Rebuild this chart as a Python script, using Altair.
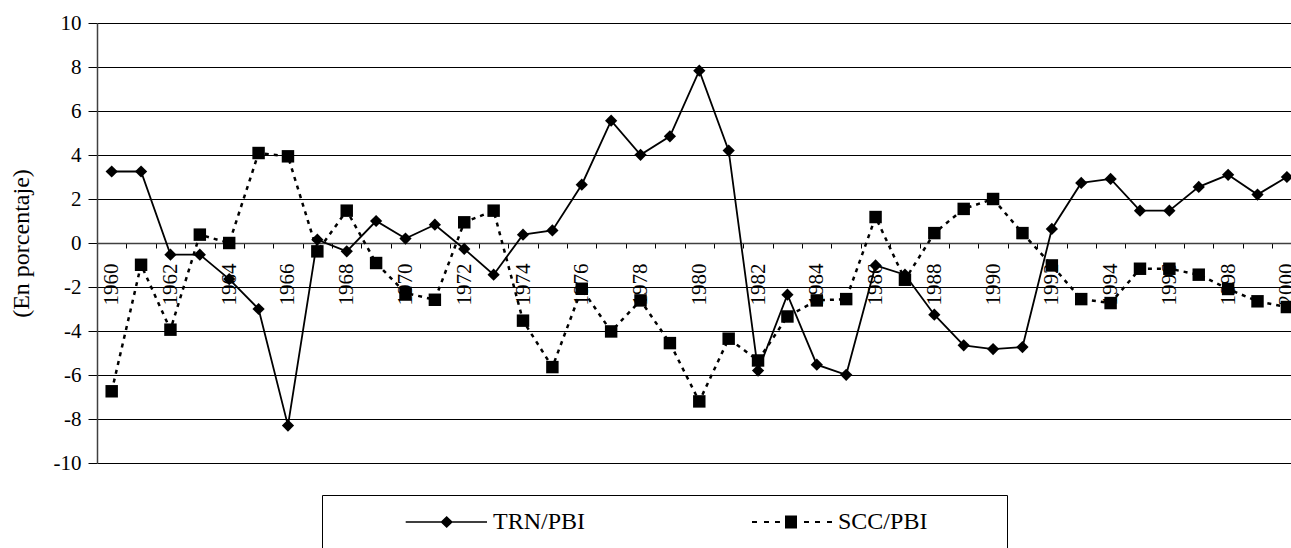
import altair as alt
import pandas as pd

# ---- data ----
years = list(range(1960, 2001))
series = ["TRN/PBI", "SCC/PBI"]
trn = [3.25, 3.25, -0.53, -0.53, -1.64, -3.0, -8.3, 0.15, -0.38, 1.0, 0.2, 0.83,
       -0.27, -1.44, 0.38, 0.57, 2.65, 5.56, 4.01, 4.85, 7.83, 4.2, -5.8, -2.35,
       -5.53, -5.99, -1.02, -1.44, -3.26, -4.65, -4.82, -4.73, 0.64, 2.73, 2.91,
       1.47, 1.47, 2.55, 3.1, 2.2, 3.0]
scc = [-6.74, -0.99, -3.94, 0.38, 0.0, 4.09, 3.94, -0.38, 1.47, -0.91, -2.27, -2.58,
       0.94, 1.47, -3.53, -5.64, -2.08, -4.02, -2.61, -4.55, -7.2, -4.35, -5.34, -3.34,
       -2.61, -2.55, 1.18, -1.67, 0.45, 1.55, 2.0, 0.45, -1.02, -2.55, -2.73,
       -1.17, -1.17, -1.44, -2.09, -2.65, -2.91]
y_ticks = [-10, -8, -6, -4, -2, 0, 2, 4, 6, 8, 10]

df = pd.DataFrame({
    "year": years * 2,
    "value": trn + scc,
    "series": [series[0]] * len(years) + [series[1]] * len(years),
})

FONT = "Liberation Serif"
W, H = 1194, 440
x_dom = [1959.5, 2000.14]
half = W / (x_dom[1] - x_dom[0]) / 2

x = alt.X(
    "year:Q",
    scale=alt.Scale(domain=x_dom, nice=False, zero=False),
    axis=alt.Axis(
        values=years, format="d", tickOffset=-half, labelOffset=half,
        labelExpr="datum.value % 2 == 0 ? '' + datum.value : ''",
        labelAngle=270, offset=-H / 2, grid=False, title=None,
        tickSize=5, tickColor="black", tickWidth=1,
        labelPadding=15, labelFontSize=21, labelFont=FONT, labelColor="black",
        labelFlush=False, labelOverlap=False, labelBound=False,
        domainColor="#404040", domainWidth=1.5,
    ),
)
y = alt.Y(
    "value:Q",
    scale=alt.Scale(domain=[-10, 10], nice=False, zero=False),
    axis=alt.Axis(
        values=y_ticks, labelExpr="'' + datum.value", grid=True,
        gridColor="black", gridWidth=1,
        domainColor="#404040", domainWidth=1.5, tickColor="black", tickSize=9,
        labelPadding=7, labelFontSize=21, labelFont=FONT, labelColor="black",
        title="(En porcentaje)", titleFontSize=24, titleFont=FONT,
        titleFontWeight="normal", titleColor="black", titlePadding=20,
    ),
)

base = alt.Chart(df)
trn_f = alt.datum.series == series[0]
scc_f = alt.datum.series == series[1]

line_trn = base.transform_filter(trn_f).mark_line(color="black", strokeWidth=1.8).encode(x=x, y=y)
line_scc = base.transform_filter(scc_f).mark_line(color="black", strokeWidth=2.5, strokeDash=[4, 5]).encode(x=x, y=y)
pts_trn = base.transform_filter(trn_f).mark_point(shape="diamond", filled=True, color="black", size=150, opacity=1).encode(x=x, y=y)
pts_scc = base.transform_filter(scc_f).mark_point(shape="square", filled=True, color="black", size=155, opacity=1).encode(x=x, y=y)

# legend symbols: line + marker drawn as filled custom paths
def rect(x0, x1, h):
    return f"M{x0},{-h}H{x1}V{h}H{x0}Z"

path_trn = ("M-1,0" + rect(-0.096, 0.974, 0.011)
            + "M0.443,-0.08L0.525,0L0.443,0.08L0.361,0Z")
path_scc = ("M-1,0"
            + rect(-0.079, -0.013, 0.014) + rect(0.079, 0.145, 0.014) + rect(0.224, 0.289, 0.014)
            + rect(0.355, 0.513, 0.085)
            + rect(0.605, 0.671, 0.014) + rect(0.75, 0.816, 0.014) + rect(0.908, 0.974, 0.014))
leg = alt.Legend(
    orient="none", legendX=225, legendY=472, direction="horizontal",
    title="SCC", titleOrient="right", titleOpacity=0, titleFontSize=24,
    titleFont=FONT, titlePadding=16,
    padding=15, strokeColor="black", fillColor="white", clipHeight=24,
    symbolSize=152 * 152, symbolStrokeWidth=0, symbolFillColor="black",
    labelOffset=4, columnPadding=96,
    labelFontSize=24, labelFont=FONT, labelColor="black", labelLimit=500,
)
legend_layer = base.transform_filter("datum.year < 0").mark_point(
    filled=True, color="black", opacity=1
).encode(
    x=x, y=y,
    shape=alt.Shape("series:N", scale=alt.Scale(domain=series, range=[path_trn, path_scc]), legend=leg),
)

chart = alt.layer(line_trn, line_scc, pts_trn, pts_scc, legend_layer).properties(
    width=W, height=H,
    autosize=alt.AutoSizeParams(type="none"),
    padding={"left": 97, "top": 23, "right": 0, "bottom": 85},
    background="white",
).configure_view(stroke=None).configure(font=FONT)

chart.save("out.html", embed_options={"renderer": "svg", "actions": False})
